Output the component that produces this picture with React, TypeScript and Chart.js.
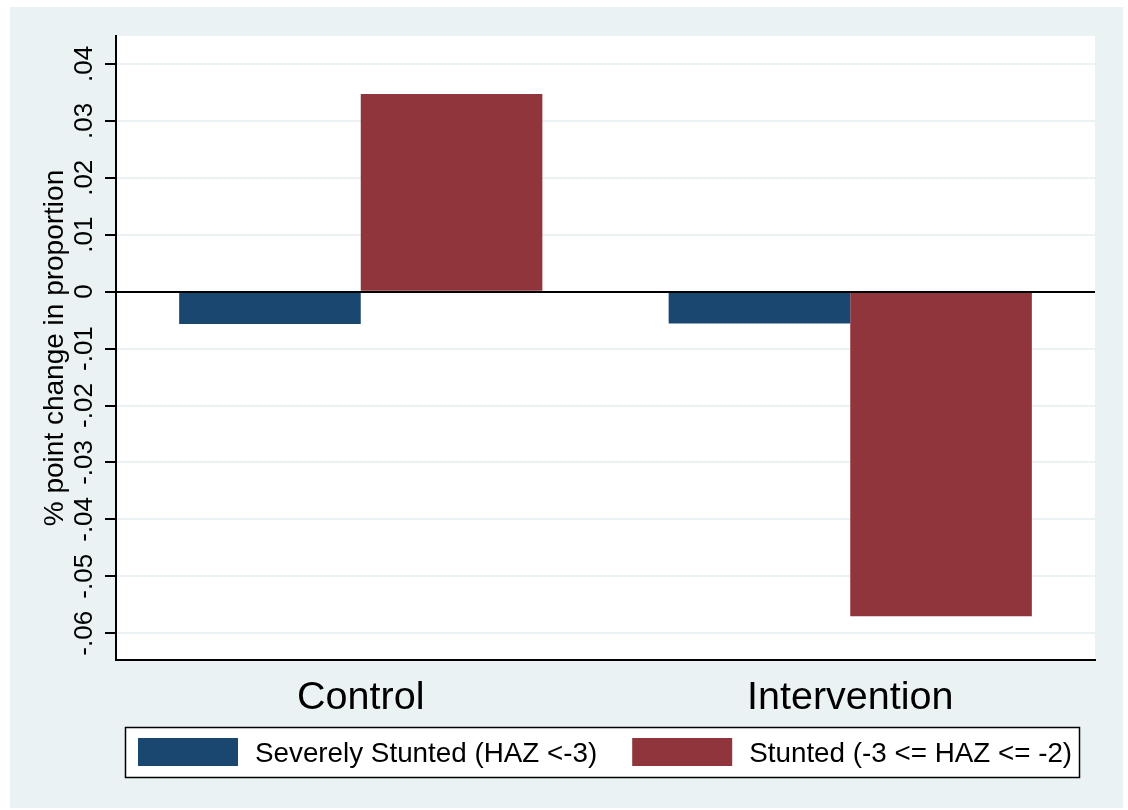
import React, { useEffect, useRef } from "react";
import { Chart, registerables } from "chart.js";

Chart.register(...registerables);

const categories = ["Control", "Intervention"];
const seriesLabels = ["Severely Stunted (HAZ <-3)", "Stunted (-3 <= HAZ <= -2)"];
const severelyStunted = [-0.0057, -0.0056];
const stunted = [0.0347, -0.057];
const seriesColors = ["#1A476F", "#90353B"];
const yTickValues = [-0.06, -0.05, -0.04, -0.03, -0.02, -0.01, 0, 0.01, 0.02, 0.03, 0.04];
const yTickLabels = ["-.06", "-.05", "-.04", "-.03", "-.02", "-.01", "0", ".01", ".02", ".03", ".04"];
const yAxisTitle = "% point change in proportion";
const yMin = -0.0647;
const yMax = 0.0449;

const FONT = '"Liberation Sans", Arial, Helvetica, sans-serif';
const BG = "#EAF2F3";

const stataPlugin = {
  id: "stataStyle",
  beforeDraw(chart: any) {
    const { ctx, width, height, chartArea } = chart;
    ctx.save();
    ctx.fillStyle = "#ffffff";
    ctx.fillRect(0, 0, width, height);
    ctx.fillStyle = BG;
    ctx.fillRect(10, 7, 1113, 801);
    ctx.fillStyle = "#ffffff";
    ctx.fillRect(
      chartArea.left,
      chartArea.top,
      chartArea.right - chartArea.left,
      chartArea.bottom - chartArea.top
    );
    ctx.restore();
  },
  afterDatasetsDraw(chart: any) {
    const { ctx, chartArea } = chart;
    const y = chart.scales.y;
    const py = Math.round(y.getPixelForValue(0));
    ctx.save();
    ctx.strokeStyle = "#000";
    ctx.lineWidth = 2;
    ctx.beginPath();
    ctx.moveTo(chartArea.left, py);
    ctx.lineTo(chartArea.right, py);
    ctx.stroke();
    ctx.restore();
  },
  afterDraw(chart: any) {
    const { ctx, chartArea } = chart;
    const y = chart.scales.y;
    ctx.save();
    ctx.fillStyle = "#000";
    ctx.font = `26px ${FONT}`;
    ctx.textAlign = "center";
    ctx.textBaseline = "alphabetic";
    y.ticks.forEach((t: any) => {
      const idx = yTickValues.findIndex((v) => Math.abs(v - t.value) < 1e-9);
      if (idx < 0) return;
      const py = y.getPixelForValue(t.value);
      ctx.save();
      ctx.translate(y.right - 24, py);
      ctx.rotate(-Math.PI / 2);
      ctx.fillText(yTickLabels[idx], 0, 0);
      ctx.restore();
    });
    ctx.font = `28px ${FONT}`;
    ctx.save();
    ctx.translate(63, (chartArea.top + chartArea.bottom) / 2);
    ctx.rotate(-Math.PI / 2);
    ctx.fillText(yAxisTitle, 0, 0);
    ctx.restore();

    // legend
    const boxL = 125, boxT = 727, boxW = 955, boxH = 51;
    ctx.fillStyle = "#ffffff";
    ctx.fillRect(boxL, boxT, boxW, boxH);
    ctx.strokeStyle = "#000";
    ctx.lineWidth = 1.5;
    ctx.strokeRect(boxL + 0.5, boxT + 0.5, boxW - 1, boxH - 1);
    ctx.font = `27.8px ${FONT}`;
    ctx.textAlign = "left";
    ctx.textBaseline = "middle";
    let x = boxL + 13;
    chart.data.datasets.forEach((ds: any) => {
      ctx.fillStyle = ds.backgroundColor;
      ctx.fillRect(x, boxT + 11, 100, 28);
      ctx.fillStyle = "#000";
      ctx.fillText(ds.label, x + 117, boxT + 27);
      x += 117 + ctx.measureText(ds.label).width + 35;
    });
    ctx.restore();
  },
};

export default function App() {
  const canvasRef = useRef<HTMLCanvasElement | null>(null);

  useEffect(() => {
    if (!canvasRef.current) return;
    const chart = new Chart(canvasRef.current, {
      type: "bar",
      data: {
        labels: categories,
        datasets: [
          {
            label: seriesLabels[0],
            data: severelyStunted,
            backgroundColor: seriesColors[0],
            borderWidth: 0,
            categoryPercentage: 0.742,
            barPercentage: 1,
          },
          {
            label: seriesLabels[1],
            data: stunted,
            backgroundColor: seriesColors[1],
            borderWidth: 0,
            categoryPercentage: 0.742,
            barPercentage: 1,
          },
        ],
      },
      options: {
        animation: false,
        responsive: false,
        devicePixelRatio: 1,
        layout: { padding: { left: 0, top: 36, right: 33, bottom: 0 } },
        plugins: {
          legend: { display: false },
          tooltip: { enabled: false },
        },
        scales: {
          x: {
            grid: { display: false },
            border: { display: true, color: "#000", width: 2 },
            ticks: { color: "#000", font: { family: FONT, size: 39.5 }, padding: 6 },
            afterFit: (s: any) => {
              s.height = 150;
            },
          },
          y: {
            min: yMin,
            max: yMax,
            afterBuildTicks: (s: any) => {
              s.ticks = yTickValues.map((v) => ({ value: v }));
            },
            ticks: { display: false },
            grid: {
              color: (c: any) =>
                c.tick && Math.abs(c.tick.value) < 1e-9 ? "#000" : BG,
              lineWidth: 2,
              tickColor: "#000",
              tickLength: 11,
              tickWidth: 2,
            },
            border: { display: true, color: "#000", width: 2 },
            afterFit: (s: any) => {
              s.width = 116;
            },
          },
        },
      },
      plugins: [stataPlugin],
    });
    return () => chart.destroy();
  }, []);

  return (
    <div style={{ position: "absolute", left: 0, top: 0, width: 1128, height: 810 }}>
      <canvas ref={canvasRef} width={1128} height={810} />
    </div>
  );
}
